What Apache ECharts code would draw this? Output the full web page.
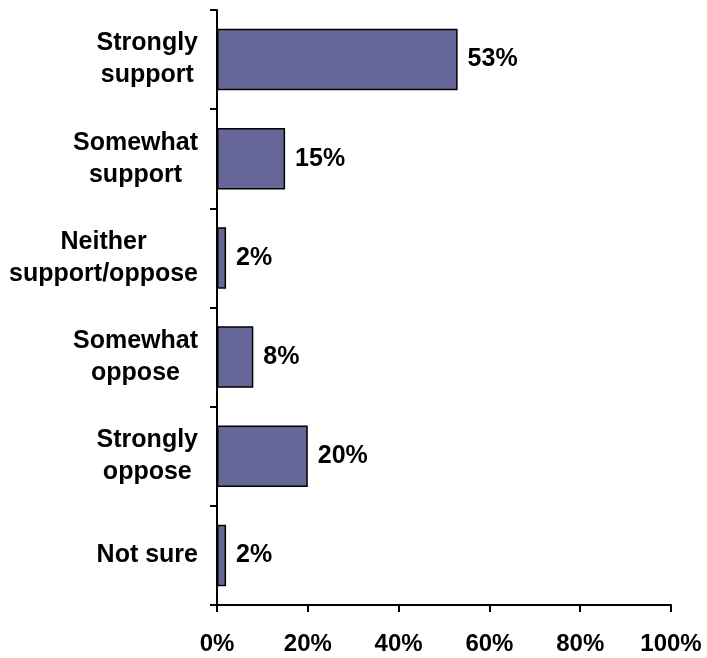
<!DOCTYPE html>
<html>
<head>
<meta charset="utf-8">
<style>
  html, body { margin: 0; padding: 0; background: #ffffff; }
  #chart { width: 707px; height: 658px; }
</style>
<script src="https://cdn.jsdelivr.net/npm/echarts@6/dist/echarts.min.js"></script>
</head>
<body>
<div id="chart"></div>
<script>
// Survey responses, top to bottom
const categories = [
  'Strongly\nsupport',
  'Somewhat\nsupport',
  'Neither\nsupport/oppose',
  'Somewhat\noppose',
  'Strongly\noppose',
  'Not sure'
];
const shares = [53, 15, 2, 8, 20, 2];
const xTicks = [0, 20, 40, 60, 80, 100];

const FONT = '"Liberation Sans", Arial, Helvetica, sans-serif';

const chart = echarts.init(document.getElementById('chart'), null, { renderer: 'canvas' });

chart.setOption({
  backgroundColor: '#ffffff',
  animation: false,
  grid: { left: 217, right: 36, top: 10, bottom: 53, containLabel: false },
  xAxis: {
    type: 'value',
    min: xTicks[0],
    max: xTicks[xTicks.length - 1],
    interval: xTicks[1] - xTicks[0],
    axisLine: { show: true, lineStyle: { color: '#000', width: 2 } },
    axisTick: { show: true, length: 7, inside: false, lineStyle: { color: '#000', width: 2 } },
    splitLine: { show: false },
    axisLabel: {
      formatter: '{value}%',
      margin: 27,
      color: '#000',
      fontFamily: FONT,
      fontWeight: 'bold',
      fontSize: 24
    }
  },
  yAxis: {
    type: 'category',
    data: categories,
    inverse: true,
    boundaryGap: true,
    axisLine: { show: true, onZero: false, lineStyle: { color: '#000', width: 2 } },
    axisTick: { show: true, length: 7, alignWithLabel: false, lineStyle: { color: '#000', width: 2 } },
    splitLine: { show: false },
    axisLabel: {
      margin: 19,
      formatter: function (v) {
        return v.split('\n').map(function (line) { return '{c|' + line + '}'; }).join('\n');
      },
      rich: {
        c: {
          align: 'center',
          color: '#000',
          fontFamily: FONT,
          fontWeight: 'bold',
          fontSize: 25,
          lineHeight: 32
        }
      }
    }
  },
  series: [{
    type: 'bar',
    data: shares,
    barCategoryGap: '38%',
    itemStyle: { color: '#666699', borderColor: '#000', borderWidth: 1.5 },
    label: {
      show: true,
      position: 'right',
      distance: 10,
      formatter: '{c}%',
      color: '#000',
      fontFamily: FONT,
      fontWeight: 'bold',
      fontSize: 25
    }
  }]
});
</script>
</body>
</html>
